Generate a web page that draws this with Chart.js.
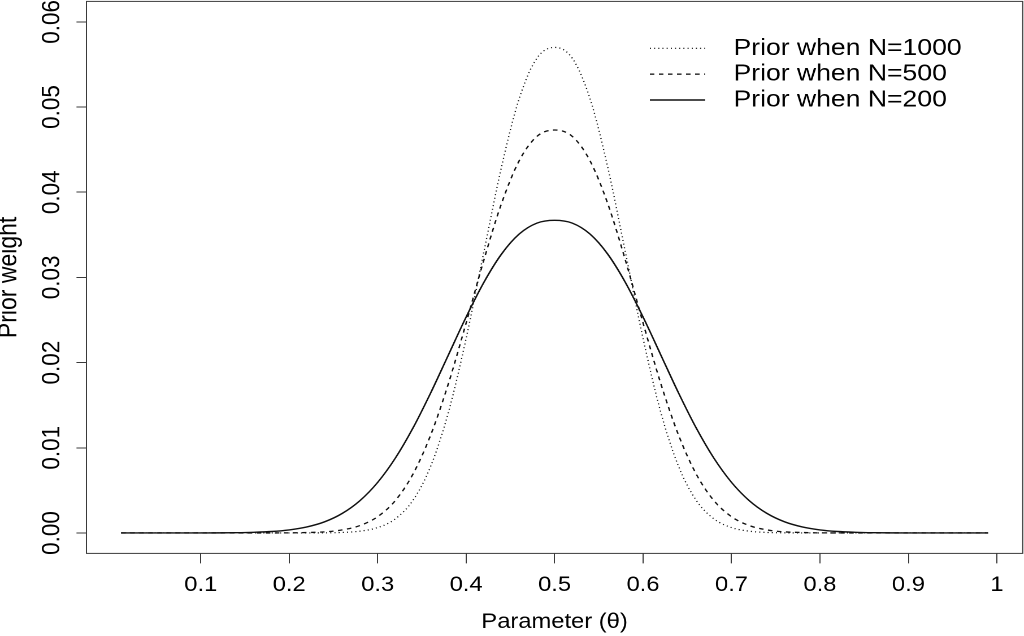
<!DOCTYPE html>
<html>
<head>
<meta charset="utf-8">
<title>Prior weight</title>
<script src="https://cdn.jsdelivr.net/npm/chart.js@4.4.1/dist/chart.umd.min.js"></script>
<style>
  html, body { margin: 0; padding: 0; background: #fff; overflow: hidden; width: 1024px; height: 636px; }
  #wrap { position: absolute; left: 0; top: 0; width: 906px; height: 636px;
          transform: scaleX(1.1302); transform-origin: 0 0; }
</style>
</head>
<body>
<div id="wrap"><canvas id="chart"></canvas></div>
<script>
// ---- data ----
const thetaValues = [0.01, 0.05, 0.10, 0.12, 0.14, 0.16, 0.18, 0.20, 0.22, 0.24, 0.26, 0.28, 0.30,
  0.32, 0.34, 0.36, 0.38, 0.40, 0.42, 0.44, 0.46, 0.48, 0.50, 0.52, 0.54, 0.56, 0.58, 0.60,
  0.62, 0.64, 0.66, 0.68, 0.70, 0.72, 0.74, 0.76, 0.78, 0.80, 0.82, 0.84, 0.86, 0.88, 0.90, 0.95, 0.99];

const priorN1000 = [0, 0, 0, 0, 0, 0, 0, 0.000005, 0.000003, 0.000015, 0.00006, 0.00021, 0.00063,
  0.00166, 0.00385, 0.00785, 0.01418, 0.02284, 0.03297, 0.04297, 0.05100, 0.05573, 0.05700,
  0.05573, 0.05100, 0.04297, 0.03297, 0.02284, 0.01418, 0.00785, 0.00385, 0.00166, 0.00063,
  0.00021, 0.00006, 0.000015, 0.000003, 0.000005, 0, 0, 0, 0, 0, 0, 0];

const priorN500 = [0, 0, 0, 0, 0, 0, 0.000004, 0.00001, 0.00005, 0.00013, 0.00036, 0.00087, 0.00191,
  0.00381, 0.00693, 0.01152, 0.01755, 0.02465, 0.03203, 0.03868, 0.04370, 0.04655, 0.04730,
  0.04655, 0.04370, 0.03868, 0.03203, 0.02465, 0.01755, 0.01152, 0.00693, 0.00381, 0.00191,
  0.00087, 0.00036, 0.00013, 0.00005, 0.00001, 0.000004, 0, 0, 0, 0, 0, 0];

const priorN200 = [0, 0, 0.000005, 0.00001, 0.00003, 0.00008, 0.00017, 0.00036, 0.00071, 0.00131,
  0.00230, 0.00380, 0.00594, 0.00879, 0.01234, 0.01646, 0.02091, 0.02535, 0.02941, 0.03274,
  0.03509, 0.03637, 0.03670, 0.03637, 0.03509, 0.03274, 0.02941, 0.02535, 0.02091, 0.01646,
  0.01234, 0.00879, 0.00594, 0.00380, 0.00230, 0.00131, 0.00071, 0.00036, 0.00017, 0.00008,
  0.00003, 0.00001, 0.000005, 0, 0];

const seriesLabels = ['Prior when N=1000', 'Prior when N=500', 'Prior when N=200'];

const xTickValues = [0.1, 0.2, 0.3, 0.4, 0.5, 0.6, 0.7, 0.8, 0.9, 1];
const xTickLabels = ['0.1', '0.2', '0.3', '0.4', '0.5', '0.6', '0.7', '0.8', '0.9', '1'];
const yTickValues = [0, 0.01, 0.02, 0.03, 0.04, 0.05, 0.06];
const yTickLabels = ['0.00', '0.01', '0.02', '0.03', '0.04', '0.05', '0.06'];

const X_MIN = -0.0292, X_MAX = 1.0292;
const Y_MIN = -0.0024, Y_MAX = 0.0624;

// ---- styling ----
const FONT = '"Liberation Sans", Arial, Helvetica, sans-serif';
const INK = '#111';
const AXIS = '#3a3a3a';

const toPoints = (ys) => thetaValues.map((x, i) => ({ x: x, y: ys[i] }));

const frame = {
  id: 'frame',
  afterDraw(chart) {
    const { ctx, chartArea: a } = chart;
    ctx.save();
    ctx.strokeStyle = AXIS;
    ctx.lineWidth = 1;
    ctx.setLineDash([]);
    ctx.strokeRect(a.left, a.top, a.right - a.left, a.bottom - a.top);
    ctx.restore();
  }
};

const inlineLegend = {
  id: 'inlineLegend',
  afterDraw(chart) {
    const ctx = chart.ctx;
    const lineX0 = 575, lineX1 = 624, textX = 649, top = 48.3, step = 25.85;
    ctx.save();
    ctx.font = '23.5px ' + FONT;
    ctx.textBaseline = 'middle';
    ctx.textAlign = 'left';
    chart.data.datasets.forEach((ds, i) => {
      const y = top + i * step;
      ctx.beginPath();
      ctx.setLineDash(ds.borderDash || []);
      ctx.lineWidth = ds.borderWidth;
      ctx.strokeStyle = ds.borderColor;
      ctx.lineCap = 'butt';
      ctx.moveTo(lineX0, y);
      ctx.lineTo(lineX1, y);
      ctx.stroke();
      ctx.setLineDash([]);
      ctx.fillStyle = '#000';
      ctx.fillText(ds.label, textX, y);
    });
    ctx.restore();
  }
};

Chart.defaults.font.family = FONT;
Chart.defaults.color = '#000';

new Chart(document.getElementById('chart'), {
  type: 'line',
  data: {
    datasets: [
      { label: seriesLabels[0], data: toPoints(priorN1000), borderColor: INK, borderWidth: 1.2,
        borderDash: [1, 2.7], pointRadius: 0, fill: false, cubicInterpolationMode: 'monotone' },
      { label: seriesLabels[1], data: toPoints(priorN500), borderColor: INK, borderWidth: 1.3,
        borderDash: [4, 4], pointRadius: 0, fill: false, cubicInterpolationMode: 'monotone' },
      { label: seriesLabels[2], data: toPoints(priorN200), borderColor: INK, borderWidth: 1.4,
        borderDash: [], pointRadius: 0, fill: false, cubicInterpolationMode: 'monotone' }
    ]
  },
  options: {
    responsive: true,
    maintainAspectRatio: false,
    animation: false,
    devicePixelRatio: 2,
    parsing: false,
    layout: { padding: { left: 0, right: 1.1, top: 1.4, bottom: 0 } },
    plugins: { legend: { display: false }, tooltip: { enabled: false } },
    scales: {
      x: {
        type: 'linear', min: X_MIN, max: X_MAX,
        afterBuildTicks: (s) => { s.ticks = xTickValues.map(v => ({ value: v })); },
        afterFit: (s) => { s.height = 82.6; s.paddingLeft = 0; s.paddingRight = 0; },
        ticks: { autoSkip: false, minRotation: 0, maxRotation: 0, padding: 9.4, color: '#000',
                 font: { size: 21 }, callback: (v, i) => xTickLabels[i] },
        grid: { display: true, drawOnChartArea: false, drawTicks: true, tickLength: 10,
                color: AXIS, lineWidth: 1 },
        border: { display: false },
        title: { display: true, text: 'Parameter (θ)', color: '#000', font: { size: 21 },
                 padding: { top: 0, bottom: 1.4 } }
      },
      y: {
        type: 'linear', min: Y_MIN, max: Y_MAX,
        afterBuildTicks: (s) => { s.ticks = yTickValues.map(v => ({ value: v })); },
        afterFit: (s) => { s.width = 76.5; s.paddingTop = 0; s.paddingBottom = 0; },
        ticks: { autoSkip: false, minRotation: 90, maxRotation: 90, crossAlign: 'center', padding: -0.5,
                 color: '#000', font: { size: 22.5 }, callback: (v, i) => yTickLabels[i] },
        grid: { display: true, drawOnChartArea: false, drawTicks: true, tickLength: 8.85,
                color: AXIS, lineWidth: 1 },
        border: { display: false },
        title: { display: true, text: 'Prior weight', color: '#000', font: { size: 23 },
                 padding: { top: -5.8, bottom: 0 } }
      }
    }
  },
  plugins: [frame, inlineLegend]
});
</script>
</body>
</html>
